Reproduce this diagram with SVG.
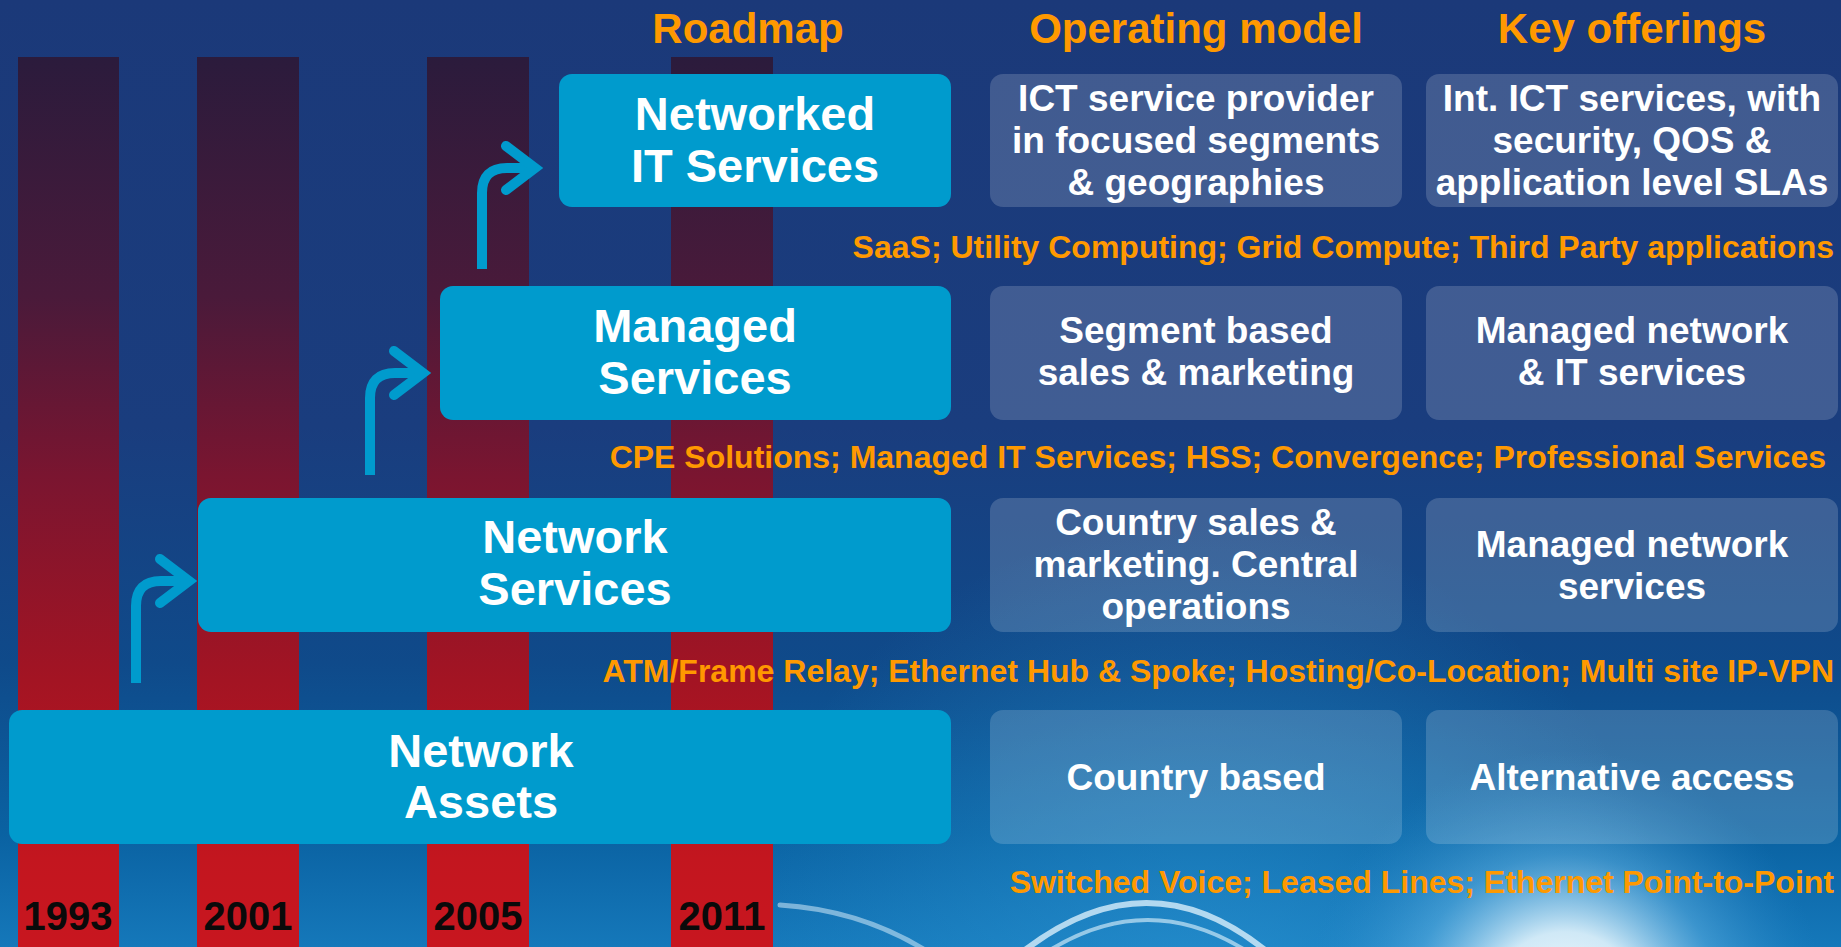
<svg xmlns="http://www.w3.org/2000/svg" width="1841" height="947" viewBox="0 0 1841 947">
<defs>
<linearGradient id="bg" x1="0" y1="0" x2="0" y2="947" gradientUnits="userSpaceOnUse">
<stop offset="0" stop-color="#1B3979"/>
<stop offset="0.45" stop-color="#1A3D7E"/>
<stop offset="0.7" stop-color="#0F4A8A"/>
<stop offset="0.88" stop-color="#0A62A2"/>
<stop offset="1" stop-color="#1578BA"/>
</linearGradient>
<radialGradient id="glow" cx="1565" cy="1010" r="260" gradientUnits="userSpaceOnUse">
<stop offset="0" stop-color="#FFFFFF" stop-opacity="1"/>
<stop offset="0.3" stop-color="#E4F5FD" stop-opacity="0.9"/>
<stop offset="0.6" stop-color="#6BBBEA" stop-opacity="0.45"/>
<stop offset="1" stop-color="#2A8ACB" stop-opacity="0"/>
</radialGradient>
<radialGradient id="glow2" cx="1200" cy="1000" r="480" gradientUnits="userSpaceOnUse">
<stop offset="0" stop-color="#2E9AD8" stop-opacity="0.55"/>
<stop offset="1" stop-color="#2E9AD8" stop-opacity="0"/>
</radialGradient>
<linearGradient id="stripe" x1="0" y1="57" x2="0" y2="947" gradientUnits="userSpaceOnUse">
<stop offset="0" stop-color="#2B1B3C"/>
<stop offset="0.27" stop-color="#4A1A3A"/>
<stop offset="0.47" stop-color="#7A1530"/>
<stop offset="0.7" stop-color="#A31423"/>
<stop offset="0.9" stop-color="#C3161F"/>
<stop offset="1" stop-color="#C8161F"/>
</linearGradient>
<style>
.main{fill:#009BCD}
.side{fill:#FFFFFF;fill-opacity:0.17}
.mt{font-family:"Liberation Sans",Arial,sans-serif;font-weight:bold;font-size:47px;fill:#FFFFFF;text-anchor:middle}
.st{font-family:"Liberation Sans",Arial,sans-serif;font-weight:bold;font-size:37px;fill:#FFFFFF;text-anchor:middle}
.hd{font-family:"Liberation Sans",Arial,sans-serif;font-weight:bold;font-size:42px;fill:#FF9900;text-anchor:middle}
.ob{font-family:"Liberation Sans",Arial,sans-serif;font-weight:bold;font-size:32px;fill:#FF9900;text-anchor:end}
.yr{font-family:"Liberation Sans",Arial,sans-serif;font-weight:bold;font-size:40px;fill:#0A0A0A;text-anchor:middle}
.ln{fill:none;stroke:#009BCD;stroke-width:10}
.hd2{fill:none;stroke:#009BCD;stroke-width:10;stroke-linecap:round;stroke-linejoin:miter}
.arc{fill:none;stroke:#E6F6FF;stroke-linecap:round}
</style>
</defs>
<rect x="0" y="0" width="1841" height="947" fill="url(#bg)"/>
<rect x="0" y="0" width="1841" height="947" fill="url(#glow2)"/>
<rect x="0" y="0" width="1841" height="947" fill="url(#glow)"/>
<g id="swirls">
<path class="arc" d="M 780 905 Q 860 910 925 950" stroke-width="5" stroke-opacity="0.5"/>
<path class="arc" d="M 1025 950 Q 1148 856 1265 950" stroke-width="6" stroke-opacity="0.75"/>
<path class="arc" d="M 1050 950 Q 1148 890 1245 950" stroke-width="4" stroke-opacity="0.6"/>
</g>
<g id="stripes">
<rect x="18" y="57" width="101" height="890" fill="url(#stripe)"/>
<rect x="197" y="57" width="102" height="890" fill="url(#stripe)"/>
<rect x="427" y="57" width="102" height="890" fill="url(#stripe)"/>
<rect x="671" y="57" width="102" height="890" fill="url(#stripe)"/>
</g>
<g id="headers">
<text class="hd" x="748" y="43">Roadmap</text>
<text class="hd" x="1196" y="43">Operating model</text>
<text class="hd" x="1632" y="43">Key offerings</text>
</g>
<g id="connectors">
<path class="ln" d="M 136 683 V 606 Q 136 581 161 581 H 186"/>
<path class="hd2" d="M 160 559 L 189 581 L 160 603"/>
<path class="ln" d="M 370 475 V 398 Q 370 373 395 373 H 420"/>
<path class="hd2" d="M 394 351 L 423 373 L 394 395"/>
<path class="ln" d="M 482 269 V 193 Q 482 168 507 168 H 532"/>
<path class="hd2" d="M 506 146 L 535 168 L 506 190"/>
</g>
<g id="node-networked-it-services">
<rect class="main" x="559" y="74" width="392" height="133" rx="13"/>
<text class="mt" x="755" y="130">Networked</text>
<text class="mt" x="755" y="182">IT Services</text>
</g>
<g id="node-managed-services">
<rect class="main" x="440" y="286" width="511" height="134" rx="13"/>
<text class="mt" x="695" y="342">Managed</text>
<text class="mt" x="695" y="394">Services</text>
</g>
<g id="node-network-services">
<rect class="main" x="198" y="498" width="753" height="134" rx="13"/>
<text class="mt" x="575" y="553">Network</text>
<text class="mt" x="575" y="605">Services</text>
</g>
<g id="node-network-assets">
<rect class="main" x="9" y="710" width="942" height="134" rx="13"/>
<text class="mt" x="481" y="767">Network</text>
<text class="mt" x="481" y="818">Assets</text>
</g>
<g id="node-op-1">
<rect class="side" x="990" y="74" width="412" height="133" rx="13"/>
<text class="st" x="1196" y="111">ICT service provider</text>
<text class="st" x="1196" y="153">in focused segments</text>
<text class="st" x="1196" y="195">&amp; geographies</text>
</g>
<g id="node-key-1">
<rect class="side" x="1426" y="74" width="412" height="133" rx="13"/>
<text class="st" x="1632" y="111">Int. ICT services, with</text>
<text class="st" x="1632" y="153">security, QOS &amp;</text>
<text class="st" x="1632" y="195">application level SLAs</text>
</g>
<g id="node-op-2">
<rect class="side" x="990" y="286" width="412" height="134" rx="13"/>
<text class="st" x="1196" y="343">Segment based</text>
<text class="st" x="1196" y="385">sales &amp; marketing</text>
</g>
<g id="node-key-2">
<rect class="side" x="1426" y="286" width="412" height="134" rx="13"/>
<text class="st" x="1632" y="343">Managed network</text>
<text class="st" x="1632" y="385">&amp; IT services</text>
</g>
<g id="node-op-3">
<rect class="side" x="990" y="498" width="412" height="134" rx="13"/>
<text class="st" x="1196" y="535">Country sales &amp;</text>
<text class="st" x="1196" y="577">marketing. Central</text>
<text class="st" x="1196" y="619">operations</text>
</g>
<g id="node-key-3">
<rect class="side" x="1426" y="498" width="412" height="134" rx="13"/>
<text class="st" x="1632" y="557">Managed network</text>
<text class="st" x="1632" y="599">services</text>
</g>
<g id="node-op-4">
<rect class="side" x="990" y="710" width="412" height="134" rx="13"/>
<text class="st" x="1196" y="790">Country based</text>
</g>
<g id="node-key-4">
<rect class="side" x="1426" y="710" width="412" height="134" rx="13"/>
<text class="st" x="1632" y="790">Alternative access</text>
</g>
<g id="bands">
<text class="ob" x="1834" y="258">SaaS; Utility Computing; Grid Compute; Third Party applications</text>
<text class="ob" x="1826" y="468">CPE Solutions; Managed IT Services; HSS; Convergence; Professional Services</text>
<text class="ob" x="1834" y="682">ATM/Frame Relay; Ethernet Hub &amp; Spoke; Hosting/Co-Location; Multi site IP-VPN</text>
<text class="ob" x="1834" y="893">Switched Voice; Leased Lines; Ethernet Point-to-Point</text>
</g>
<g id="years">
<text class="yr" x="68" y="930">1993</text>
<text class="yr" x="248" y="930">2001</text>
<text class="yr" x="478" y="930">2005</text>
<text class="yr" x="722" y="930">2011</text>
</g>
</svg>
